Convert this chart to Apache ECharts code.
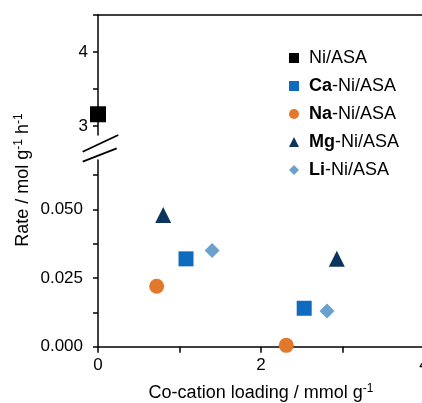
<!DOCTYPE html>
<html>
<head>
<meta charset="utf-8">
<script src="https://cdn.jsdelivr.net/npm/echarts@6/dist/echarts.min.js"></script>
<style>
html,body{margin:0;padding:0;background:#fff;}
#chart{width:422px;height:403px;}
</style>
</head>
<body>
<div id="chart"></div>
<script>
// Data
const seriesNames = ['Ni/ASA', 'Ca-Ni/ASA', 'Na-Ni/ASA', 'Mg-Ni/ASA', 'Li-Ni/ASA'];
const niX = [0];          const niY = [3.16];
const caX = [1.08, 2.53]; const caY = [0.032, 0.014];
const naX = [0.72, 2.31]; const naY = [0.022, 0.0005];
const mgX = [0.80, 2.93]; const mgY = [0.048, 0.032];
const liX = [1.40, 2.81]; const liY = [0.035, 0.013];
const xTicks = [0, 1, 2, 3, 4];
const xLabels = [0, 2, 4];
const yTopTicks = [3, 3.5, 4, 4.5];
const yTopLabels = [3, 4];
const yBotTicks = [0, 0.0125, 0.025, 0.0375, 0.05, 0.0625];
const yBotLabels = [0, 0.025, 0.05];

const FONT = '"Liberation Sans", Arial, sans-serif';
const zip = (xs, ys) => xs.map((x, i) => [x, ys[i]]);

const chart = echarts.init(document.getElementById('chart'), null, {renderer: 'canvas'});

const axisLine = {show: true, onZero: false, lineStyle: {color: '#000', width: 1.5}};
const tickStyle = {lineStyle: {color: '#000', width: 1.5}};

const option = {
  backgroundColor: '#fff',
  animation: false,
  textStyle: {fontFamily: FONT},
  grid: [
    {left: 98, right: -2, top: 15, bottom: 268, containLabel: false, outerBoundsMode: 'none'},
    {left: 98, right: -2, top: 160, bottom: 56.3, containLabel: false, outerBoundsMode: 'none'}
  ],
  xAxis: [
    {gridIndex: 0, type: 'value', min: 0, max: 4, position: 'top',
     axisLine: axisLine, axisTick: {show: false}, axisLabel: {show: false}, splitLine: {show: false}},
    {gridIndex: 1, type: 'value', min: 0, max: 4, interval: 1,
     axisLine: axisLine,
     axisTick: Object.assign({show: true, length: 6, inside: false}, tickStyle),
     axisLabel: {show: true, margin: 10, color: '#000', fontSize: 17, fontFamily: FONT,
       hideOverlap: false,
       formatter: v => xLabels.includes(v) ? String(v) : ''},
     splitLine: {show: false},
     name: 'Co-cation loading / mmol g{sup|-1}',
     nameLocation: 'middle', nameGap: 36,
     nameTextStyle: {color: '#000', fontSize: 18, fontFamily: FONT, lineHeight: 20,
       rich: {sup: {fontSize: 12, verticalAlign: 'top', lineHeight: 10, color: '#000', fontFamily: FONT}}}}
  ],
  yAxis: [
    {gridIndex: 0, type: 'value', min: 2.88, max: 4.5,
     axisLine: axisLine,
     axisTick: Object.assign({show: true, length: 5, customValues: yTopTicks}, tickStyle),
     axisLabel: {show: true, margin: 10, color: '#000', fontSize: 17, fontFamily: FONT,
       customValues: yTopLabels, formatter: v => String(v)},
     splitLine: {show: false}},
    {gridIndex: 1, type: 'value', min: 0, max: 0.068,
     axisLine: axisLine,
     axisTick: Object.assign({show: true, length: 5, customValues: yBotTicks}, tickStyle),
     axisLabel: {show: true, margin: 15, color: '#000', fontSize: 17, fontFamily: FONT,
       customValues: yBotLabels, formatter: v => v.toFixed(3)},
     splitLine: {show: false}}
  ],
  legend: {
    orient: 'vertical', left: 284, top: 43,
    itemWidth: 10, itemHeight: 10, itemGap: 8,
    data: seriesNames,
    formatter: name => {
      const i = name.indexOf('-');
      return i < 0 ? name : '{b|' + name.slice(0, i) + '}' + name.slice(i);
    },
    textStyle: {color: '#000', fontSize: 18, fontFamily: FONT, lineHeight: 20, padding: [0, 0, 0, 5],
      rich: {b: {fontWeight: 'bold', fontSize: 18, color: '#000', fontFamily: FONT, lineHeight: 20}}}
  },
  series: [
    {name: seriesNames[0], type: 'scatter', xAxisIndex: 0, yAxisIndex: 0, symbol: 'rect', symbolSize: 16,
     itemStyle: {color: '#000000', opacity: 1}, data: zip(niX, niY)},
    {name: seriesNames[1], type: 'scatter', xAxisIndex: 1, yAxisIndex: 1, symbol: 'rect', symbolSize: 15,
     itemStyle: {color: '#0f6bbf', opacity: 1}, data: zip(caX, caY)},
    {name: seriesNames[2], type: 'scatter', xAxisIndex: 1, yAxisIndex: 1, symbol: 'circle', symbolSize: 15,
     itemStyle: {color: '#e2782c', opacity: 1}, data: zip(naX, naY)},
    {name: seriesNames[3], type: 'scatter', xAxisIndex: 1, yAxisIndex: 1, symbol: 'triangle', symbolSize: 16,
     itemStyle: {color: '#0c355e', opacity: 1}, data: zip(mgX, mgY)},
    {name: seriesNames[4], type: 'scatter', xAxisIndex: 1, yAxisIndex: 1, symbol: 'diamond', symbolSize: 15,
     itemStyle: {color: '#6aa2cf', opacity: 1}, data: zip(liX, liY)}
  ],
  graphic: [
    {type: 'text', x: 23, y: 180, rotation: Math.PI / 2,
     style: {text: 'Rate / mol g{sup|-1} h{sup|-1}', fill: '#000', font: '18px ' + FONT,
       align: 'center', verticalAlign: 'middle', lineHeight: 20,
       rich: {sup: {fontSize: 12, verticalAlign: 'top', lineHeight: 10, fill: '#000', fontFamily: FONT}}}},
    {type: 'line', shape: {x1: 82.7, y1: 151.7, x2: 118.3, y2: 135}, style: {stroke: '#000', lineWidth: 1.8}},
    {type: 'line', shape: {x1: 82.7, y1: 161.7, x2: 116.7, y2: 148.3}, style: {stroke: '#000', lineWidth: 1.8}}
  ]
};
chart.setOption(option);
</script>
</body>
</html>
